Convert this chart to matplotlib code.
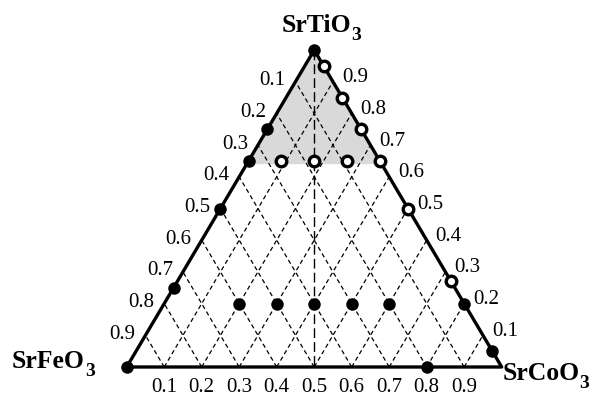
import matplotlib
matplotlib.use('Agg')
import matplotlib.pyplot as plt
import numpy as np

# Тройная диаграмма SrTiO3 - SrFeO3 - SrCoO3
# доли: ti (верх), co (правый нижний угол), fe = 1 - ti - co
grid_steps = [0.1, 0.2, 0.3, 0.4, 0.5, 0.6, 0.7, 0.8, 0.9]
fe_labels = ['0.1', '0.2', '0.3', '0.4', '0.5', '0.6', '0.7', '0.8', '0.9']
ti_labels = ['0.9', '0.8', '0.7', '0.6', '0.5', '0.4', '0.3', '0.2', '0.1']
co_labels = ['0.1', '0.2', '0.3', '0.4', '0.5', '0.6', '0.7', '0.8', '0.9']

# Закрашенные точки
filled_ti = [1.0, 0.75, 0.65, 0.5, 0.25, 0.0, 0.2, 0.2, 0.2, 0.2, 0.2, 0.2, 0.05, 0.0]
filled_co = [0.0, 0.0, 0.0, 0.0, 0.0, 0.0, 0.2, 0.3, 0.4, 0.5, 0.6, 0.8, 0.95, 0.8]

# Открытые точки
open_ti = [0.95, 0.85, 0.75, 0.65, 0.5, 0.27, 0.65, 0.65, 0.65]
open_co = [0.05, 0.15, 0.25, 0.35, 0.5, 0.73, 0.0875, 0.175, 0.2625]

shade_ti = 0.64  # граница серой области

H = 317 / 375  # высота треугольника


def to_xy(ti, co):
    ti = np.asarray(ti, dtype=float)
    co = np.asarray(co, dtype=float)
    return co + 0.5 * ti, ti * H


fig = plt.figure(figsize=(5.92, 3.99), dpi=100)
ax = fig.add_axes([0, 0, 1, 1])
ax.set_xlim(-126.7 / 375, (592 - 126.7) / 375)
ax.set_ylim(-(399 - 367) / 375, 367 / 375)
ax.axis('off')

# Серая область
gx, gy = to_xy([1.0, shade_ti, shade_ti], [0.0, 0.0, 1 - shade_ti])
ax.fill(gx, gy, color='#d9d9d9', lw=0, zorder=0)

# Сетка (пунктир)
grid_style = dict(color='black', lw=0.9, ls=(0, (3.5, 2.5)), zorder=1)
for k in grid_steps:
    # co = const
    x, y = to_xy([0.0, 1 - k], [k, k])
    ax.plot(x, y, **grid_style)
    # fe = const
    x, y = to_xy([0.0, 1 - k], [1 - k, 0.0])
    ax.plot(x, y, **grid_style)

# Вертикальная линия fe = co
x, y = to_xy([1.0, 0.0], [0.0, 0.5])
ax.plot(x, y, color='black', lw=1.0, ls=(0, (7, 3)), zorder=2)

# Стороны треугольника
x, y = to_xy([0.0, 0.0, 1.0, 0.0], [0.0, 1.0, 0.0, 0.0])
ax.plot(x, y, color='black', lw=2.4, solid_capstyle='round', solid_joinstyle='round', zorder=3)

# Точки
x, y = to_xy(filled_ti, filled_co)
ax.plot(x, y, 'o', color='black', ms=9, mew=0, zorder=5)
x, y = to_xy(open_ti, open_co)
ax.plot(x, y, 'o', mfc='white', mec='black', ms=7.6, mew=2.4, zorder=5)

# Подписи делений
tick_font = dict(family='Liberation Serif', fontsize=15)
px = 0.72
for k, lab in zip(grid_steps, fe_labels):
    x, y = to_xy(1 - k, 0.0)
    ax.annotate(lab, (x, y), xytext=(-10 * px, 1 * px), textcoords='offset points',
                ha='right', va='center', **tick_font)
for k, lab in zip(grid_steps, ti_labels):
    ti = float(lab)
    x, y = to_xy(ti, 1 - ti)
    ax.annotate(lab, (x, y), xytext=(9 * px, 4 * px), textcoords='offset points',
                ha='left', va='center', **tick_font)
for k, lab in zip(grid_steps, co_labels):
    x, y = to_xy(0.0, k)
    ax.annotate(lab, (x, y), xytext=(0, -21 * px), textcoords='offset points',
                ha='center', va='center', **tick_font)


# Подписи вершин
def corner_label(name, ti, co, dx, dy, ha):
    x, y = to_xy(ti, co)
    t = ax.annotate(name, (x, y), xytext=(dx * px, dy * px), textcoords='offset points',
                    ha=ha, va='baseline', family='Liberation Serif', fontweight='bold',
                    fontsize=18.5)
    ax.annotate('3', xy=(1, 0), xycoords=t, xytext=(0.2, -2), textcoords='offset points',
                ha='left', va='baseline', family='Liberation Serif', fontweight='bold',
                fontsize=14)


corner_label('SrTiO', 1.0, 0.0, 2, 18, 'center')
corner_label('SrFeO', 0.0, 0.0, -42, -1, 'right')
corner_label('SrCoO', 0.0, 1.0, 0.5, -13, 'left')

fig.savefig('out.png', dpi=100)
